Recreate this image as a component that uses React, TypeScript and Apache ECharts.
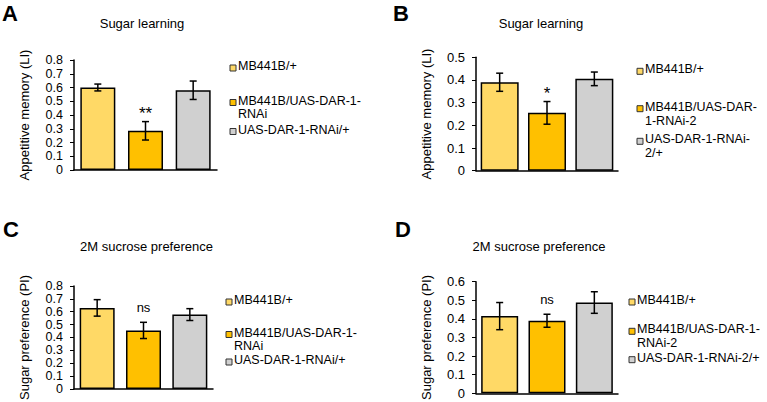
import { useEffect, useRef } from "react";
import * as echarts from "echarts";

const groupColors = ["#FFD966", "#FFC000", "#D0D0D0"];

const panelLetters = ["A", "B", "C", "D"];
const titles = ["Sugar learning", "Sugar learning", "2M sucrose preference", "2M sucrose preference"];
const yAxisNames = ["Appetitive memory (LI)", "Appetitive memory (LI)", "Sugar preference (PI)", "Sugar preference (PI)"];
const yMax = [0.8, 0.5, 0.8, 0.6];
const yStep = 0.1;

const categoriesAC = ["MB441B/+", "MB441B/UAS-DAR-1-RNAi", "UAS-DAR-1-RNAi/+"];
const categoriesBD = ["MB441B/+", "MB441B/UAS-DAR-1-RNAi-2", "UAS-DAR-1-RNAi-2/+"];

const meansA = [0.6, 0.285, 0.58];
const errA = [0.025, 0.067, 0.067];
const meansB = [0.39, 0.255, 0.405];
const errB = [0.04, 0.05, 0.03];
const meansC = [0.63, 0.455, 0.578];
const errC = [0.064, 0.063, 0.046];
const meansD = [0.415, 0.39, 0.488];
const errD = [0.073, 0.035, 0.058];
const significance = ["**", "*", "ns", "ns"];

const legendA = ["MB441B/+", "MB441B/UAS-DAR-1-\nRNAi", "UAS-DAR-1-RNAi/+"];
const legendB = ["MB441B/+", "MB441B/UAS-DAR-\n1-RNAi-2", "UAS-DAR-1-RNAi-\n2/+"];
const legendC = ["MB441B/+", "MB441B/UAS-DAR-1-\nRNAi", "UAS-DAR-1-RNAi/+"];
const legendD = ["MB441B/+", "MB441B/UAS-DAR-1-\nRNAi-2", "UAS-DAR-1-RNAi-2/+"];

const FONT = "'Liberation Sans', Arial, Helvetica, sans-serif";

// layout (positions / sizes only)
const layout = [
  { left: 74, top: 60, width: 143, height: 110, barWidth: 35, tickFont: 12.5, titleX: 142, titleY: 23, letterX: 2, letterY: 13, legX: 230, legY: [66, 100.5, 129.5], lineH: 13 },
  { left: 476, top: 57.3, width: 142, height: 113.4, barWidth: 38, tickFont: 13, titleX: 541, titleY: 23, letterX: 393, letterY: 13, legX: 637, legY: [69.3, 106.7, 139.3], lineH: 14 },
  { left: 74, top: 286, width: 139, height: 110, barWidth: 35, tickFont: 12.5, titleX: 146.5, titleY: 246.7, letterX: 3, letterY: 229, legX: 226, legY: [300, 332.5, 360], lineH: 13 },
  { left: 476, top: 281.7, width: 142, height: 113.5, barWidth: 37, tickFont: 13, titleX: 539, titleY: 246.7, letterX: 395, letterY: 229, legX: 629, legY: [300, 329.3, 357.7], lineH: 14 },
];

const panels = [
  { cats: categoriesAC, means: meansA, errs: errA, legend: legendA },
  { cats: categoriesBD, means: meansB, errs: errB, legend: legendB },
  { cats: categoriesAC, means: meansC, errs: errC, legend: legendC },
  { cats: categoriesBD, means: meansD, errs: errD, legend: legendD },
];

export default function App() {
  const ref = useRef<HTMLDivElement>(null);
  useEffect(() => {
    if (!ref.current) return;
    const chart = echarts.init(ref.current, null, { renderer: "svg" });

    const grid: any[] = [];
    const xAxis: any[] = [];
    const yAxis: any[] = [];
    const series: any[] = [];
    const graphic: any[] = [];

    panels.forEach((p, i) => {
      const L = layout[i];
      grid.push({ left: L.left, top: L.top, width: L.width, height: L.height, containLabel: false });
      xAxis.push({
        type: "category",
        gridIndex: i,
        data: p.cats,
        axisLine: { show: true, lineStyle: { color: "#000", width: 1.5 } },
        axisTick: { show: false },
        axisLabel: { show: false },
        splitLine: { show: false },
      });
      yAxis.push({
        type: "value",
        gridIndex: i,
        min: 0,
        max: yMax[i],
        interval: yStep,
        name: yAxisNames[i],
        nameLocation: "middle",
        nameGap: 43,
        nameRotate: 90,
        nameTextStyle: { fontSize: 13, color: "#000", fontFamily: FONT },
        axisLine: { show: true, lineStyle: { color: "#000", width: 1.5 } },
        axisTick: { show: true, inside: false, length: 4, lineStyle: { color: "#000", width: 1 } },
        axisLabel: {
          fontSize: L.tickFont,
          lineHeight: 12,
          color: "#000",
          fontFamily: FONT,
          margin: 11,
          formatter: (v: number) => (Math.abs(v) < 1e-9 ? "0" : v.toFixed(1)),
        },
        splitLine: { show: false },
      });
      series.push({
        type: "bar",
        xAxisIndex: i,
        yAxisIndex: i,
        barWidth: L.barWidth,
        data: p.means.map((v, j) => ({ value: v, itemStyle: { color: groupColors[j] } })),
        itemStyle: { borderColor: "#000", borderWidth: 1.5 },
        z: 2,
      });
      const sig = significance[i];
      const isNs = sig === "ns";
      series.push({
        type: "custom",
        xAxisIndex: i,
        yAxisIndex: i,
        z: 5,
        data: p.means.map((m, j) => [j, m, p.errs[j]]),
        renderItem: (params: any, api: any) => {
          const x = api.value(0);
          const m = api.value(1);
          const e = api.value(2);
          const top = api.coord([x, m + e]);
          const bot = api.coord([x, m - e]);
          const cap = 3.5;
          const ls = { stroke: "#000", lineWidth: 1.5 };
          const children: any[] = [
            { type: "line", shape: { x1: top[0], y1: top[1], x2: bot[0], y2: bot[1] }, style: ls },
            { type: "line", shape: { x1: top[0] - cap, y1: top[1], x2: top[0] + cap, y2: top[1] }, style: ls },
            { type: "line", shape: { x1: bot[0] - cap, y1: bot[1], x2: bot[0] + cap, y2: bot[1] }, style: ls },
          ];
          if (x === 1) {
            children.push({
              type: "text",
              x: top[0],
              y: top[1] - (isNs ? 8 : 0),
              style: {
                text: sig,
                align: "center",
                verticalAlign: "bottom",
                fontSize: isNs ? 13 : 17,
                lineHeight: isNs ? 13 : 17,
                fontFamily: FONT,
                fill: "#000",
              },
            });
          }
          return { type: "group", children };
        },
      });

      // panel letter
      graphic.push({
        type: "text",
        left: L.letterX,
        top: L.letterY - 11,
        style: { text: panelLetters[i], fontSize: 22, fontWeight: "bold", fontFamily: FONT, fill: "#000" },
      });
      // title
      graphic.push({
        type: "text",
        x: L.titleX,
        y: L.titleY,
        style: { text: titles[i], fontSize: 13, fontFamily: FONT, fill: "#000", align: "center", verticalAlign: "middle" },
      });
      // legend
      p.legend.forEach((label, j) => {
        const cy = L.legY[j];
        graphic.push({
          type: "rect",
          x: L.legX,
          y: cy - 1,
          shape: { x: 0, y: 0, width: 6, height: 6 },
          style: { fill: groupColors[j], stroke: "#333", lineWidth: 1 },
        });
        graphic.push({
          type: "text",
          x: L.legX + 8,
          y: cy - L.lineH / 2,
          style: {
            text: label,
            fontSize: 12.5,
            lineHeight: L.lineH,
            fontFamily: FONT,
            fill: "#000",
            align: "left",
            verticalAlign: "top",
          },
        });
      });
    });

    chart.setOption({
      animation: false,
      backgroundColor: "#fff",
      textStyle: { fontFamily: FONT },
      grid,
      xAxis,
      yAxis,
      series,
      graphic,
    });
    return () => chart.dispose();
  }, []);
  return <div ref={ref} style={{ position: "absolute", left: 0, top: 0, width: 767, height: 402 }} />;
}
